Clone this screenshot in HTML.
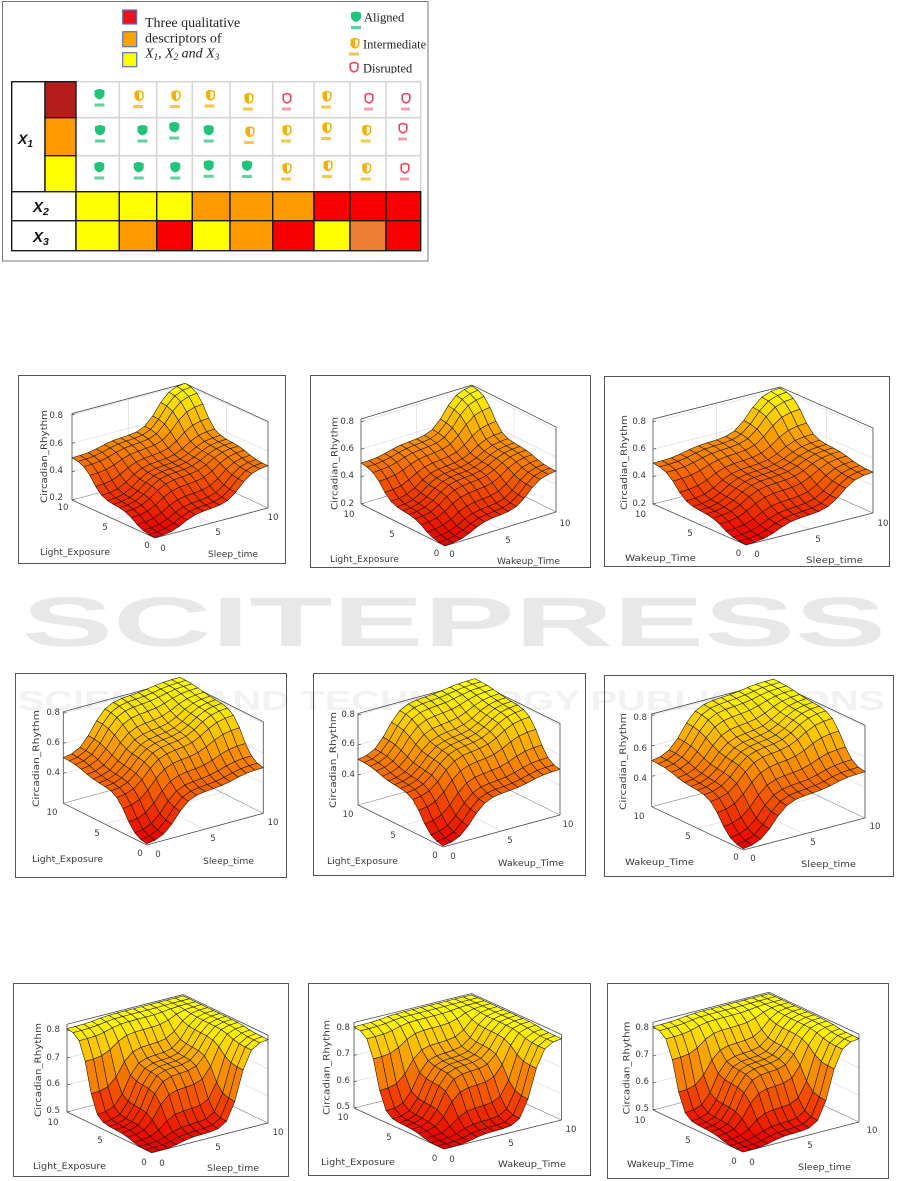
<!DOCTYPE html>
<html><head><meta charset="utf-8">
<style>
html,body{margin:0;padding:0;background:#fff;}
svg{display:block;}
</style></head><body>
<svg id="S" xmlns="http://www.w3.org/2000/svg" width="901" height="1181" viewBox="0 0 901 1181">
<defs>
<g id="ig"><path d="M-5,-3.5 Q0,-6.5 5,-3.5 L5,0.5 Q5,4 0,5.5 Q-5,4 -5,0.5 Z" fill="#22c47a"/><rect x="-5" y="9.5" width="10" height="3" fill="#62d29c"/></g>
<g id="iy"><path d="M-3.8,-3 Q0,-5.8 3.8,-3 L3.8,0.8 Q3.8,3.8 0,5 Q-3.8,3.8 -3.8,0.8 Z" fill="none" stroke="#f2b100" stroke-width="1.5"/><path d="M-3.8,-3 Q-2,-4.6 0,-5 L0,5 Q-3.8,3.8 -3.8,0.8 Z" fill="#f2b100"/><rect x="-6" y="9.5" width="10" height="3" fill="#f7c64d"/></g>
<g id="ir"><path d="M-3.8,-3 Q0,-5.8 3.8,-3 L3.8,0.8 Q3.8,3.8 0,5 Q-3.8,3.8 -3.8,0.8 Z" fill="none" stroke="#e8465f" stroke-width="1.6"/><rect x="-5" y="9.5" width="9" height="3" fill="#f1a0ae"/></g>
<clipPath id="lc"><rect x="340" y="0" width="88" height="73.5"/></clipPath>
</defs>
<rect width="901" height="1181" fill="#fff"/>

<!-- watermark line 1 -->
<text x="22" y="646" font-family="Liberation Sans, sans-serif" font-weight="bold" font-size="70" fill="#e8e8e8" textLength="864" lengthAdjust="spacingAndGlyphs">SCITEPRESS</text>

<!-- ===== TABLE ===== -->
<rect x="2.5" y="1.5" width="425.5" height="259.5" fill="none" stroke="#777" stroke-width="1"/>
<rect x="122.7" y="10" width="14" height="14" fill="#e8141b" stroke="#4f79b6" stroke-width="1.2"/>
<rect x="122.7" y="31.7" width="14" height="15" fill="#f7a400" stroke="#4f79b6" stroke-width="1.2"/>
<rect x="122.7" y="52.7" width="14" height="14" fill="#ffff00" stroke="#4f79b6" stroke-width="1.2"/>
<g font-family="Liberation Serif, serif" font-size="14" fill="#222">
<text x="145" y="27">Three qualitative</text>
<text x="145" y="42.3">descriptors of</text>
<text x="145" y="57.3" font-style="italic">X<tspan font-size="9" dy="2.5">1</tspan><tspan dy="-2.5" font-style="normal">, </tspan>X<tspan font-size="9" dy="2.5">2</tspan><tspan dy="-2.5"> and </tspan>X<tspan font-size="9" dy="2.5">3</tspan></text>
</g>
<g clip-path="url(#lc)">
<use href="#ig" x="356" y="16.5"/>
<use href="#iy" x="355" y="43"/>
<use href="#ir" x="354" y="67"/>
<g font-family="Liberation Serif, serif" font-size="12.5" fill="#222">
<text x="364" y="21.7">Aligned</text>
<text x="363" y="48.3">Intermediate</text>
<text x="363" y="72.7">Disrupted</text>
</g>
</g>

<g stroke="#d6d6d6" stroke-width="1.6" fill="none">
<path d="M76,81.7H420.7V191.7 M76,117.7H420.7 M76,155.7H420.7 M119.3,81.7V191.7 M156.7,81.7V191.7 M192.3,81.7V191.7 M230,81.7V191.7 M272.7,81.7V191.7 M314,81.7V191.7 M350,81.7V191.7 M386,81.7V191.7"/>
</g>

<!-- icons row 1 -->
<use href="#ig" x="99.5" y="94"/>
<use href="#iy" x="139" y="95.5"/>
<use href="#iy" x="176" y="95.5"/>
<use href="#iy" x="210.5" y="95"/>
<use href="#iy" x="249" y="98"/>
<use href="#ir" x="287" y="98"/>
<use href="#iy" x="327" y="96"/>
<use href="#ir" x="369" y="98"/>
<use href="#ir" x="406" y="98"/>
<!-- row 2 -->
<use href="#ig" x="100" y="130"/>
<use href="#ig" x="142.5" y="130"/>
<use href="#ig" x="174.3" y="127"/>
<use href="#ig" x="208.7" y="130"/>
<use href="#iy" x="250" y="131.5"/>
<use href="#iy" x="287" y="130"/>
<use href="#iy" x="327" y="127.5"/>
<use href="#iy" x="366.7" y="130"/>
<use href="#ir" x="403" y="128"/>
<!-- row 3 -->
<use href="#ig" x="99.3" y="167"/>
<use href="#ig" x="138.7" y="167"/>
<use href="#ig" x="175.3" y="167"/>
<use href="#ig" x="208.7" y="165.3"/>
<use href="#ig" x="247" y="165.5"/>
<use href="#iy" x="287" y="168"/>
<use href="#iy" x="328" y="165.5"/>
<use href="#iy" x="366.7" y="168"/>
<use href="#ir" x="405" y="168"/>

<g stroke="#1a1a1a" stroke-width="1.4">
<rect x="11.7" y="81.7" width="33.3" height="110" fill="#fff"/>
<rect x="45" y="81.7" width="31" height="36" fill="#b51c1c"/>
<rect x="45" y="117.7" width="31" height="38" fill="#ff9900"/>
<rect x="45" y="155.7" width="31" height="36" fill="#ffff00"/>
<rect x="11.7" y="191.7" width="64.3" height="29" fill="#fff"/>
<rect x="11.7" y="220.7" width="64.3" height="30" fill="#fff"/>
<!-- X2 -->
<rect x="76" y="191.7" width="43.3" height="29" fill="#ffff00"/>
<rect x="119.3" y="191.7" width="37.4" height="29" fill="#ffff00"/>
<rect x="156.7" y="191.7" width="35.6" height="29" fill="#ffff00"/>
<rect x="192.3" y="191.7" width="37.7" height="29" fill="#ff9900"/>
<rect x="230" y="191.7" width="42.7" height="29" fill="#ff9900"/>
<rect x="272.7" y="191.7" width="41.3" height="29" fill="#ff9900"/>
<rect x="314" y="191.7" width="36" height="29" fill="#f70000"/>
<rect x="350" y="191.7" width="36" height="29" fill="#f70000"/>
<rect x="386" y="191.7" width="34.7" height="29" fill="#f70000"/>
<!-- X3 -->
<rect x="76" y="220.7" width="43.3" height="30" fill="#ffff00"/>
<rect x="119.3" y="220.7" width="37.4" height="30" fill="#ff9900"/>
<rect x="156.7" y="220.7" width="35.6" height="30" fill="#f70000"/>
<rect x="192.3" y="220.7" width="37.7" height="30" fill="#ffff00"/>
<rect x="230" y="220.7" width="42.7" height="30" fill="#ff9900"/>
<rect x="272.7" y="220.7" width="41.3" height="30" fill="#f70000"/>
<rect x="314" y="220.7" width="36" height="30" fill="#ffff00"/>
<rect x="350" y="220.7" width="36" height="30" fill="#ed7d31"/>
<rect x="386" y="220.7" width="34.7" height="30" fill="#f70000"/>
</g>
<g font-family="Liberation Sans, sans-serif" font-weight="bold" font-style="italic" fill="#111">
<text x="18" y="144" font-size="14">X<tspan font-size="10" dy="3">1</tspan></text>
<text x="33" y="212" font-size="15">X<tspan font-size="10.5" dy="3">2</tspan></text>
<text x="33" y="242" font-size="15">X<tspan font-size="10.5" dy="3">3</tspan></text>
</g>

<!-- ===== PLOT FRAMES ===== -->
<g fill="#fff" stroke="#555" stroke-width="1">
<rect x="18.5" y="375.5" width="267" height="188"/>
<rect x="310.5" y="375.5" width="280" height="192"/>
<rect x="604.5" y="376.5" width="285" height="190"/>
<rect x="15.5" y="673.5" width="271" height="204"/>
<rect x="313.5" y="673.5" width="272" height="202"/>
<rect x="604.5" y="675.5" width="289" height="201"/>
<rect x="13.5" y="983.5" width="275" height="193"/>
<rect x="308.5" y="983.5" width="282" height="192"/>
<rect x="607.5" y="983.5" width="281" height="195"/>
</g>

<g id="surf"></g>

<!-- ===== PLOT TEXT ===== -->
<g font-family="DejaVu Sans, sans-serif" fill="#3a3a3a">
<!-- P1 -->
<g font-size="8.6">
<g text-anchor="end"><text x="63" y="418">0.8</text><text x="63" y="446">0.6</text><text x="63" y="473">0.4</text><text x="63" y="500">0.2</text></g>
<g text-anchor="middle"><text x="63" y="510">10</text><text x="105" y="530">5</text><text x="147" y="548">0</text><text x="163" y="551">0</text><text x="218" y="535">5</text><text x="273" y="520">10</text></g>
</g>
<g font-size="9">
<text x="40" y="555" textLength="70" lengthAdjust="spacingAndGlyphs">Light_Exposure</text>
<text x="208" y="557" textLength="50" lengthAdjust="spacingAndGlyphs">Sleep_time</text>
<text transform="translate(47,456.5) rotate(-90)" text-anchor="middle" textLength="93" lengthAdjust="spacingAndGlyphs">Circadian_Rhythm</text>
</g>
<!-- P2 -->
<g font-size="8.6">
<g text-anchor="end"><text x="354" y="424">0.8</text><text x="354" y="451">0.6</text><text x="354" y="478">0.4</text><text x="354" y="506">0.2</text></g>
<g text-anchor="middle"><text x="349" y="517">10</text><text x="392" y="537">5</text><text x="436.5" y="556">0</text><text x="452" y="557">0</text><text x="508" y="543">5</text><text x="565" y="526">10</text></g>
</g>
<g font-size="9">
<text x="330" y="562" textLength="69" lengthAdjust="spacingAndGlyphs">Light_Exposure</text>
<text x="497" y="564" textLength="63" lengthAdjust="spacingAndGlyphs">Wakeup_Time</text>
<text transform="translate(337.3,463.5) rotate(-90)" text-anchor="middle" textLength="93" lengthAdjust="spacingAndGlyphs">Circadian_Rhythm</text>
</g>
<!-- P3 -->
<g font-size="8.6">
<g text-anchor="end"><text x="646" y="424">0.8</text><text x="646" y="451">0.6</text><text x="646" y="478">0.4</text><text x="646" y="506">0.2</text></g>
<g text-anchor="middle"><text x="640.5" y="517">10</text><text x="690" y="536">5</text><text x="738.5" y="556">0</text><text x="757" y="557">0</text><text x="818" y="542">5</text><text x="883" y="526">10</text></g>
</g>
<g font-size="9">
<text x="625" y="561" textLength="71" lengthAdjust="spacingAndGlyphs">Wakeup_Time</text>
<text x="806" y="563" textLength="57" lengthAdjust="spacingAndGlyphs">Sleep_time</text>
<text transform="translate(626.8,462.5) rotate(-90)" text-anchor="middle" textLength="95" lengthAdjust="spacingAndGlyphs">Circadian_Rhythm</text>
</g>
<!-- P4 -->
<g font-size="8.6">
<g text-anchor="end"><text x="60" y="715">0.8</text><text x="60" y="745">0.6</text><text x="60" y="775">0.4</text></g>
<g text-anchor="middle"><text x="52" y="815">10</text><text x="97" y="836">5</text><text x="140" y="856">0</text><text x="158" y="857">0</text><text x="213" y="841">5</text><text x="273" y="825">10</text></g>
</g>
<g font-size="9">
<text x="32" y="862" textLength="71" lengthAdjust="spacingAndGlyphs">Light_Exposure</text>
<text x="203" y="864" textLength="51" lengthAdjust="spacingAndGlyphs">Sleep_time</text>
<text transform="translate(38.8,758.5) rotate(-90)" text-anchor="middle" textLength="97" lengthAdjust="spacingAndGlyphs">Circadian_Rhythm</text>
</g>
<!-- P5 -->
<g font-size="8.6">
<g text-anchor="end"><text x="355" y="717">0.8</text><text x="355" y="746">0.6</text><text x="355" y="777">0.4</text></g>
<g text-anchor="middle"><text x="348" y="817">10</text><text x="393" y="838">5</text><text x="435" y="858">0</text><text x="453" y="859">0</text><text x="510" y="843">5</text><text x="568" y="827">10</text></g>
</g>
<g font-size="9">
<text x="327" y="864" textLength="71" lengthAdjust="spacingAndGlyphs">Light_Exposure</text>
<text x="498" y="866" textLength="66" lengthAdjust="spacingAndGlyphs">Wakeup_Time</text>
<text transform="translate(335.8,760) rotate(-90)" text-anchor="middle" textLength="96" lengthAdjust="spacingAndGlyphs">Circadian_Rhythm</text>
</g>
<!-- P6 -->
<g font-size="8.6">
<g text-anchor="end"><text x="647" y="720">0.8</text><text x="647" y="751">0.6</text><text x="647" y="781">0.4</text></g>
<g text-anchor="middle"><text x="639" y="819">10</text><text x="688" y="839">5</text><text x="736" y="860">0</text><text x="753" y="861">0</text><text x="813" y="845">5</text><text x="875" y="829">10</text></g>
</g>
<g font-size="9">
<text x="625" y="865" textLength="69" lengthAdjust="spacingAndGlyphs">Wakeup_Time</text>
<text x="801" y="867" textLength="55" lengthAdjust="spacingAndGlyphs">Sleep_time</text>
<text transform="translate(625.8,761.5) rotate(-90)" text-anchor="middle" textLength="97" lengthAdjust="spacingAndGlyphs">Circadian_Rhythm</text>
</g>
<!-- P7 -->
<g font-size="8.6">
<g text-anchor="end"><text x="60" y="1032">0.8</text><text x="60" y="1060">0.7</text><text x="60" y="1086">0.6</text><text x="60" y="1113">0.5</text></g>
<g text-anchor="middle"><text x="53" y="1125">10</text><text x="100" y="1143">5</text><text x="144" y="1165">0</text><text x="162" y="1166">0</text><text x="218" y="1150">5</text><text x="278" y="1135">10</text></g>
</g>
<g font-size="9">
<text x="33" y="1169" textLength="73" lengthAdjust="spacingAndGlyphs">Light_Exposure</text>
<text x="207" y="1171" textLength="52" lengthAdjust="spacingAndGlyphs">Sleep_time</text>
<text transform="translate(40.8,1070) rotate(-90)" text-anchor="middle" textLength="94" lengthAdjust="spacingAndGlyphs">Circadian_Rhythm</text>
</g>
<!-- P8 -->
<g font-size="8.6">
<g text-anchor="end"><text x="350" y="1030">0.8</text><text x="350" y="1056">0.7</text><text x="350" y="1083">0.6</text><text x="350" y="1109">0.5</text></g>
<g text-anchor="middle"><text x="343" y="1120">10</text><text x="389" y="1140">5</text><text x="434.6" y="1161">0</text><text x="452" y="1162">0</text><text x="511" y="1146">5</text><text x="571" y="1132">10</text></g>
</g>
<g font-size="9">
<text x="321" y="1165" textLength="74" lengthAdjust="spacingAndGlyphs">Light_Exposure</text>
<text x="498" y="1167" textLength="68" lengthAdjust="spacingAndGlyphs">Wakeup_Time</text>
<text transform="translate(329.3,1067.5) rotate(-90)" text-anchor="middle" textLength="95" lengthAdjust="spacingAndGlyphs">Circadian_Rhythm</text>
</g>
<!-- P9 -->
<g font-size="8.6">
<g text-anchor="end"><text x="649" y="1030">0.8</text><text x="649" y="1057">0.7</text><text x="649" y="1084">0.6</text><text x="649" y="1111">0.5</text></g>
<g text-anchor="middle"><text x="640" y="1123">10</text><text x="688" y="1143">5</text><text x="734" y="1164">0</text><text x="752" y="1165">0</text><text x="810" y="1148">5</text><text x="872" y="1133">10</text></g>
</g>
<g font-size="9">
<text x="627" y="1167" textLength="67" lengthAdjust="spacingAndGlyphs">Wakeup_Time</text>
<text x="798" y="1170" textLength="53" lengthAdjust="spacingAndGlyphs">Sleep_time</text>
<text transform="translate(629.3,1068) rotate(-90)" text-anchor="middle" textLength="93" lengthAdjust="spacingAndGlyphs">Circadian_Rhythm</text>
</g>
</g>

<!-- watermark line 2 (overlay) -->
<text x="18" y="710" font-family="Liberation Sans, sans-serif" font-weight="bold" font-size="28" fill="#000" fill-opacity="0.05" textLength="867" lengthAdjust="spacingAndGlyphs">SCIENCE AND TECHNOLOGY PUBLICATIONS</text>
</svg>

<script>
(function(){
function gm(x,c,s){return Math.exp(-(x-c)*(x-c)/(2*s*s));}
function zf(u,v,C,s){var n=0,d=0;for(var i=0;i<3;i++){var a=gm(u,5*i,s);for(var j=0;j<3;j++){var w=a*gm(v,5*j,s);n+=w*C[i][j];d+=w;}}return n/d;}
var C1=[[0.20,0.30,0.50],[0.30,0.45,0.55],[0.50,0.55,0.82]];
var C2=[[0.20,0.45,0.50],[0.45,0.66,0.80],[0.50,0.80,0.83]];
var C3=[[0.50,0.52,0.81],[0.52,0.70,0.82],[0.81,0.82,0.82]];
var T1=[0.2,0.4,0.6,0.8],T2=[0.4,0.6,0.8],T3=[0.5,0.6,0.7,0.8];
var P=[
 {F:[155,538],L:[72,500],R:[268,508],z0:0.2,k:141.7,zt:0.81,ticks:T1,C:C1,s:1.7},
 {F:[445,546],L:[361,504],R:[556,512],z0:0.2,k:137,zt:0.82,ticks:T1,C:C1,s:1.7},
 {F:[746,545],L:[653,504],R:[873,513],z0:0.2,k:137,zt:0.82,ticks:T1,C:C1,s:1.7},
 {F:[146.7,845],L:[63.3,803.3],R:[263.3,813.3],z0:0.2,k:150,zt:0.81,ticks:T2,C:C2,s:1.75},
 {F:[443,847],L:[358,805],R:[560,815],z0:0.2,k:150,zt:0.81,ticks:T2,C:C2,s:1.75},
 {F:[743.3,850],L:[651.7,806.7],R:[865,818],z0:0.2,k:152,zt:0.81,ticks:T2,C:C2,s:1.75},
 {F:[151.7,1152.7],L:[67,1112],R:[268,1123],z0:0.5,k:270,zt:0.825,ticks:T3,C:C3,s:1.5},
 {F:[444,1149],L:[354,1108],R:[561.5,1120],z0:0.5,k:263,zt:0.825,ticks:T3,C:C3,s:1.5},
 {F:[743,1152],L:[653,1110],R:[859,1122],z0:0.5,k:270,zt:0.825,ticks:T3,C:C3,s:1.5}
];
var html='';
var N=15;
P.forEach(function(p){
 function pt(u,v,z){return [p.F[0]+(p.R[0]-p.F[0])*u/10+(p.L[0]-p.F[0])*v/10, p.F[1]+(p.R[1]-p.F[1])*u/10+(p.L[1]-p.F[1])*v/10-(z-p.z0)*p.k];}
 function f(a){return a[0].toFixed(2)+','+a[1].toFixed(2);}
 function ln(a,b,c,w){return '<path d="M'+f(a)+'L'+f(b)+'" stroke="'+c+'" stroke-width="'+w+'" fill="none"/>';}
 var gc='#dedede';
 p.ticks.forEach(function(z){html+=ln(pt(0,10,z),pt(10,10,z),gc,0.7)+ln(pt(10,10,z),pt(10,0,z),gc,0.7);});
 html+=ln(pt(5,10,p.z0),pt(5,10,p.zt),gc,0.7)+ln(pt(10,5,p.z0),pt(10,5,p.zt),gc,0.7)+ln(pt(5,0,p.z0),pt(5,10,p.z0),gc,0.7)+ln(pt(0,5,p.z0),pt(10,5,p.z0),gc,0.7);
 var bc='#4a4a4a';
 html+='<path d="M'+f(pt(0,10,p.z0))+'L'+f(pt(0,10,p.zt))+'L'+f(pt(10,10,p.zt))+'L'+f(pt(10,0,p.zt))+'L'+f(pt(10,0,p.z0))+'" stroke="'+bc+'" stroke-width="0.8" fill="none"/>';
 html+=ln(pt(10,10,p.z0),pt(10,10,p.zt),'#999',0.6);
 html+='<path d="M'+f(pt(0,10,p.z0))+'L'+f(pt(10,10,p.z0))+'L'+f(pt(10,0,p.z0))+'" stroke="#888" stroke-width="0.6" fill="none"/>';
 html+='<path d="M'+f(pt(0,10,p.z0))+'L'+f(pt(0,0,p.z0))+'L'+f(pt(10,0,p.z0))+'" stroke="'+bc+'" stroke-width="0.8" fill="none"/>';
 p.ticks.forEach(function(z){var a=pt(0,10,z);html+=ln(a,[a[0]+3,a[1]-0.8],bc,0.7);});
 var Z=[],mn=9,mx=-9,i,j;
 for(i=0;i<N;i++){Z[i]=[];for(j=0;j<N;j++){var z=zf(i*10/(N-1),j*10/(N-1),p.C,p.s);Z[i][j]=z;if(z<mn)mn=z;if(z>mx)mx=z;}}
 var Q=[];
 for(i=0;i<N-1;i++)for(j=0;j<N-1;j++){
   var u0=i*10/(N-1),u1=(i+1)*10/(N-1),v0=j*10/(N-1),v1=(j+1)*10/(N-1);
   var zc=(Z[i][j]+Z[i+1][j]+Z[i+1][j+1]+Z[i][j+1])/4;
   var key=pt((u0+u1)/2,(v0+v1)/2,p.z0)[1];
   Q.push([key,'M'+f(pt(u0,v0,Z[i][j]))+'L'+f(pt(u1,v0,Z[i+1][j]))+'L'+f(pt(u1,v1,Z[i+1][j+1]))+'L'+f(pt(u0,v1,Z[i][j+1]))+'Z',zc]);
 }
 Q.sort(function(a,b){return a[0]-b[0];});
 Q.forEach(function(q){var t=(q[2]-mn)/(mx-mn);if(t<0)t=0;if(t>1)t=1;var r=236+19*t;var g=r*t;html+='<path d="'+q[1]+'" fill="rgb('+Math.round(r)+','+Math.round(g)+',0)" stroke="#111" stroke-width="0.55" stroke-linejoin="round"/>';});
});
var g=document.getElementById('surf');
g.insertAdjacentHTML('beforeend',html);
})();
</script>
</body></html>
